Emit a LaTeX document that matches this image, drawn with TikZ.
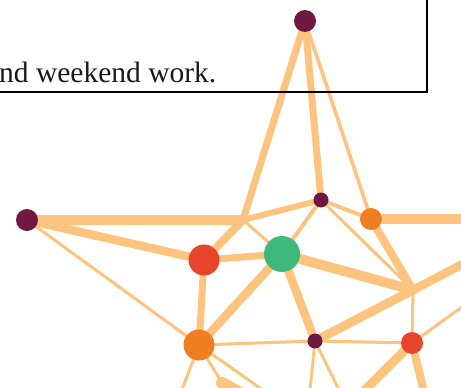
\documentclass[tikz,border=0pt]{standalone}
\usepackage{fontspec}
\setmainfont{Liberation Serif}
\usetikzlibrary{backgrounds}
\definecolor{vino}{HTML}{6F1842}
\definecolor{rojoRed}{HTML}{E8432B}
\definecolor{verdeRed}{HTML}{3EB97B}
\definecolor{naranjaRed}{HTML}{F07E21}
\definecolor{durazno}{HTML}{FCC47E}
\colorlet{colArista}{durazno}
\colorlet{colTexto}{black!90}
\tikzset{
  nodoBase/.style={circle, draw=none, inner sep=0pt},
  nodoVino/.style={nodoBase, fill=vino, minimum size=22pt},
  nodoVinoChico/.style={nodoBase, fill=vino, minimum size=15pt},
  nodoRojo/.style={nodoBase, fill=rojoRed, minimum size=31pt},
  nodoNaranja/.style={nodoBase, fill=naranjaRed, minimum size=22pt},
  nodoVerde/.style={nodoBase, fill=verdeRed, minimum size=36pt},
  aristaFina/.style={draw=colArista, line width=3pt, line cap=round},
  aristaMedia/.style={draw=colArista, line width=6pt, line cap=round},
  aristaGruesa/.style={draw=colArista, line width=8.5pt, line cap=round},
  cajaNota/.style={draw=black, line width=2pt},
  textoNota/.style={anchor=base west, inner sep=0pt, text=colTexto,
    font=\fontsize{29.5}{34}\selectfont},
}

\begin{document}
\begin{tikzpicture}[x=1pt, y=-1pt]
    \useasboundingbox (0,0) rectangle (461,388);
    \clip (0,0) rectangle (461,388);

    % Nodos de la red
    \node[nodoVino] (cima) at (305,21) {};
    \node[nodoVino] (izq) at (27,220) {};
    \node[nodoVinoChico] (centroSup) at (321,200) {};
    \node[nodoNaranja] (naranjaSup) at (371,219) {};
    \node[nodoRojo] (rojoIzq) at (204,260) {};
    \node[nodoVerde] (verde) at (282,254) {};
    \node[nodoNaranja, minimum size=31pt] (naranjaInf) at (199,345) {};
    \node[nodoVinoChico] (centroInf) at (315,341) {};
    \node[nodoRojo, minimum size=22pt] (rojoDer) at (412,343) {};

    % Cruces sin nodo
    \coordinate (cruceIzq) at (243,220);
    \coordinate (cruceDer) at (413,290);
    \coordinate (cruceInf) at (222,383);

    % Salidas hacia afuera
    \coordinate (salidaA) at (480,219);
    \coordinate (salidaB) at (480,255);
    \coordinate (salidaC) at (480,294);
    \coordinate (salidaD) at (355,400);
    \coordinate (salidaE) at (426,400);
    \coordinate (salidaF) at (309,400);
    \coordinate (salidaG) at (344,400);
    \coordinate (salidaH) at (178,400);
    \coordinate (salidaI) at (277,400);
    \coordinate (salidaJ) at (262,405);

    % Aristas
    \begin{scope}[on background layer]
      \draw[aristaMedia, line width=7pt] (cima) -- (cruceIzq);
      \draw[aristaMedia, line width=7pt] (cima) -- (centroSup);
      \draw[aristaFina, line width=3.5pt] (cima) -- (naranjaSup);
      \draw[aristaGruesa, line width=10pt] (izq) -- (cruceIzq);
      \draw[aristaMedia] (cruceIzq) -- (centroSup);
      \draw[aristaFina] (cruceIzq) -- (verde);
      \draw[aristaGruesa, line width=8pt] (cruceIzq) -- (rojoIzq);
      \draw[aristaGruesa] (izq) -- (rojoIzq);
      \draw[aristaFina] (izq) -- (naranjaInf);
      \draw[aristaMedia, line width=7pt] (rojoIzq) -- (verde);
      \draw[aristaMedia, line width=7pt] (rojoIzq) -- (naranjaInf);
      \draw[aristaGruesa] (verde) -- (naranjaInf);
      \draw[aristaGruesa, line width=10pt] (verde) -- (cruceDer);
      \draw[aristaGruesa] (verde) -- (centroInf);
      \draw[aristaFina, line width=4pt] (verde) -- (centroSup);
      \draw[aristaFina, line width=4pt] (centroSup) -- (naranjaSup);
      \draw[aristaFina] (centroSup) -- (cruceDer);
      \draw[aristaGruesa, line width=10pt] (naranjaSup) -- (salidaA);
      \draw[aristaGruesa, line width=8pt] (naranjaSup) -- (cruceDer);
      \draw[aristaGruesa, line width=9pt] (centroInf) -- (cruceDer);
      \draw[aristaGruesa] (cruceDer) -- (salidaB);
      \draw[aristaFina] (cruceDer) -- (rojoDer);
      \draw[aristaFina] (rojoDer) -- (salidaC);
      \draw[aristaFina] (centroInf) -- (rojoDer);
      \draw[aristaFina] (naranjaInf) -- (centroInf);
      \draw[aristaGruesa, line width=9pt] (rojoDer) -- (salidaD);
      \draw[aristaGruesa, line width=8pt] (rojoDer) -- (salidaE);
      \draw[aristaFina] (centroInf) -- (salidaF);
      \draw[aristaFina] (centroInf) -- (salidaG);
      \draw[aristaFina] (naranjaInf) -- (salidaH);
      \draw[aristaFina] (naranjaInf) -- (salidaI);
      \draw[aristaFina] (naranjaInf) -- (cruceInf);
      \draw[aristaGruesa, line width=12pt] (cruceInf) -- (salidaJ);
    \end{scope}

    % Recuadro de la nota
    \draw[cajaNota] (-10,-10) rectangle (427,91.5);
    \node[textoNota] (nota) at (-1,82) {nd weekend work.};
  \end{tikzpicture}
\end{document}
